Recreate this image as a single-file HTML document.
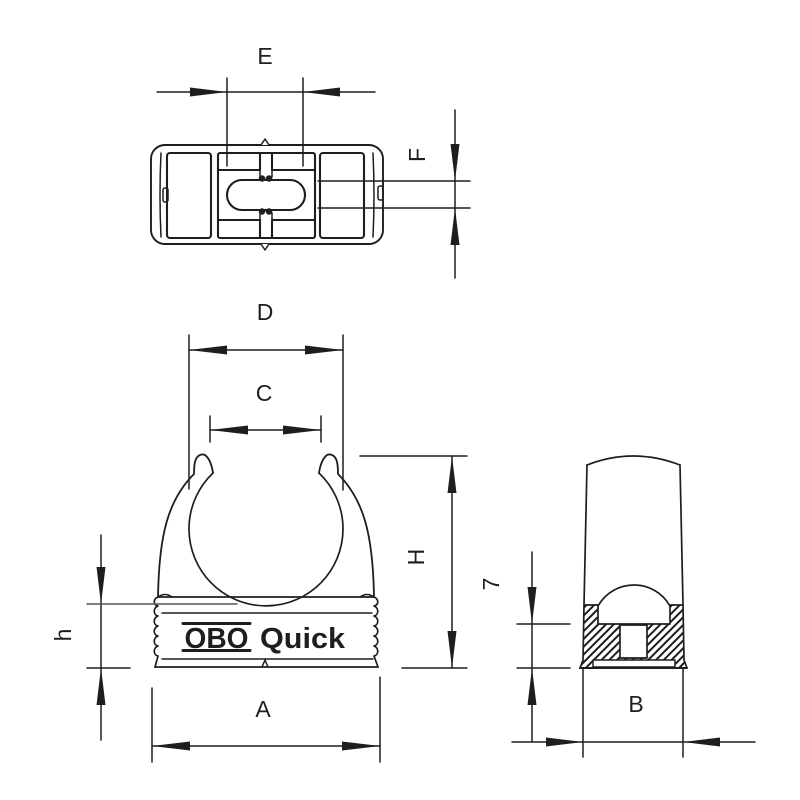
<!DOCTYPE html>
<html>
<head>
<meta charset="utf-8">
<style>
html,body{margin:0;padding:0;background:#fff;}
svg{display:block;}
text{font-family:"Liberation Sans",sans-serif;fill:#1e1e1e;}
</style>
</head>
<body>
<svg width="800" height="800" viewBox="0 0 800 800" xmlns="http://www.w3.org/2000/svg">
<defs>
<pattern id="hatch" patternUnits="userSpaceOnUse" width="5.5" height="5.5" patternTransform="rotate(45)">
<rect width="5.5" height="5.5" fill="#fff"/>
<line x1="1" y1="0" x2="1" y2="5.5" stroke="#1e1e1e" stroke-width="2"/>
</pattern>
</defs>
<g fill="none" stroke="#1e1e1e" stroke-width="1.5" stroke-linejoin="round" stroke-linecap="round">

<!-- ============ TOP VIEW ============ -->
<rect x="151" y="145" width="232" height="99" rx="14" stroke-width="1.9"/>
<path d="M161,153 Q159,195 161,237"/>
<path d="M373,153 Q375,195 373,237"/>
<!-- notches -->
<path d="M261,145 L265,139 L269,145" fill="#fff"/>
<path d="M261,244 L265,250 L269,244" fill="#fff"/>
<!-- side bumps -->
<rect x="163" y="188" width="5" height="14" rx="2"/>
<rect x="378" y="186" width="5" height="14" rx="2"/>
<!-- pockets -->
<rect x="167" y="153" width="44" height="85" rx="3" stroke-width="2.1"/>
<rect x="320" y="153" width="44" height="85" rx="3" stroke-width="2.1"/>
<!-- center block -->
<rect x="218" y="153" width="97" height="85" rx="2" stroke-width="2.1"/>
<path d="M218,170 L260,170 L260,153 M272,153 L272,170 L315,170" stroke-width="2.1"/>
<path d="M218,220 L260,220 L260,238 M272,238 L272,220 L315,220" stroke-width="2.1"/>
<path d="M260,170 L260,177 M272,170 L272,177 M260,213 L260,220 M272,213 L272,220"/>
<rect x="227" y="180" width="78" height="30" rx="15" stroke-width="2.1"/>
<circle cx="262" cy="178.5" r="2.5" fill="#1e1e1e"/>
<circle cx="269" cy="178.5" r="2.5" fill="#1e1e1e"/>
<circle cx="262" cy="211.5" r="2.5" fill="#1e1e1e"/>
<circle cx="269" cy="211.5" r="2.5" fill="#1e1e1e"/>

<!-- E dimension -->
<line x1="157" y1="92" x2="375" y2="92"/>
<line x1="227" y1="78" x2="227" y2="166"/>
<line x1="303" y1="78" x2="303" y2="166"/>
<!-- F dimension -->
<line x1="455" y1="110" x2="455" y2="278"/>
<line x1="318" y1="181" x2="470" y2="181"/>
<line x1="318" y1="208" x2="470" y2="208"/>

<!-- ============ FRONT VIEW ============ -->
<!-- inner circle -->
<path d="M213,473 A77,77 0 1 0 319,473" stroke-width="1.7"/>
<!-- left arm -->
<path d="M213,473 C212,466 210,459 205,455 C200,453 196,457 195,462 C194,466 194,470 194,474 C168,500 159,535 158,597" stroke-width="1.8"/>
<!-- right arm -->
<path d="M319,473 C320,466 322,459 327,455 C332,453 336,457 337,462 C338,466 338,470 338,474 C364,500 373,535 374,597" stroke-width="1.8"/>
<!-- base band -->
<line x1="158" y1="597" x2="374" y2="597" stroke-width="1.7"/>
<path d="M158,597 Q165,592 172,597 M374,597 Q367,592 360,597"/>
<line x1="162" y1="613" x2="372" y2="613"/>
<line x1="162" y1="659" x2="373" y2="659"/>
<line x1="155" y1="667" x2="378" y2="667" stroke-width="1.8"/>
<!-- left scalloped edge -->
<path d="M158,597 C153,599 153,605 158,606 C153,608 153,615 158,616 C153,618 153,625 158,626 C153,628 153,635 158,636 C153,638 153,645 158,646 C153,648 153,655 158,656 L155,667" stroke-width="1.7"/>
<!-- right scalloped edge -->
<path d="M374,597 C379,599 379,605 374,606 C379,608 379,615 374,616 C379,618 379,625 374,626 C379,628 379,635 374,636 C379,638 379,645 374,646 C379,648 379,655 374,656 L378,667" stroke-width="1.7"/>
<path d="M262,667 L265,660 L268,667"/>
<!-- OBO logo bars -->
<line x1="183" y1="623.5" x2="250" y2="623.5" stroke-width="3"/>
<line x1="183" y1="650.5" x2="250" y2="650.5" stroke-width="3"/>

<!-- D dimension -->
<line x1="189" y1="350" x2="343" y2="350"/>
<line x1="189" y1="335" x2="189" y2="489"/>
<line x1="343" y1="335" x2="343" y2="490"/>
<!-- C dimension -->
<line x1="210" y1="430" x2="321" y2="430"/>
<line x1="210" y1="416" x2="210" y2="442"/>
<line x1="321" y1="416" x2="321" y2="442"/>
<!-- H dimension -->
<line x1="452" y1="456" x2="452" y2="668"/>
<line x1="360" y1="456" x2="467" y2="456"/>
<line x1="402" y1="668" x2="467" y2="668"/>
<!-- h dimension -->
<line x1="101" y1="535" x2="101" y2="740"/>
<line x1="87" y1="604" x2="237" y2="604" stroke="#555"/>
<line x1="87" y1="668" x2="130" y2="668"/>
<!-- A dimension -->
<line x1="152" y1="746" x2="380" y2="746"/>
<line x1="152" y1="688" x2="152" y2="762"/>
<line x1="380" y1="677" x2="380" y2="762"/>

<!-- ============ SIDE VIEW ============ -->
<path d="M587,465 Q633,447 680,465" stroke-width="1.7"/>
<line x1="587" y1="465" x2="584" y2="605" stroke-width="1.7"/>
<line x1="680" y1="465" x2="683" y2="605" stroke-width="1.7"/>
<!-- hatched section -->
<path d="M584,605 L683,605 L684,660 L687,668 L580,668 L583,660 Z" fill="url(#hatch)" stroke-width="1.7"/>
<path d="M598,624 L598,606 C606,592 620,585 634,585 C648,585 662,592 670,606 L670,624 Z" fill="#fff" stroke-width="1.7"/>
<rect x="620" y="625" width="27" height="33" fill="#fff" stroke-width="1.7"/>
<rect x="593" y="660" width="82" height="7" fill="#fff" stroke-width="1.5"/>
<line x1="580" y1="668" x2="687" y2="668" stroke-width="1.9"/>

<!-- 7 dimension -->
<line x1="532" y1="552" x2="532" y2="742"/>
<line x1="517" y1="624" x2="570" y2="624"/>
<line x1="517" y1="668" x2="570" y2="668"/>
<!-- B dimension -->
<line x1="512" y1="742" x2="755" y2="742"/>
<line x1="583" y1="668" x2="583" y2="757"/>
<line x1="683" y1="668" x2="683" y2="757"/>
</g>

<!-- arrowheads -->
<g fill="#1e1e1e" stroke="none">
<!-- E -->
<polygon points="190,87.5 227,92 190,96.5"/>
<polygon points="340,87.5 303,92 340,96.5"/>
<!-- F -->
<polygon points="450.5,144 455,181 459.5,144"/>
<polygon points="450.5,245 455,208 459.5,245"/>
<!-- D -->
<polygon points="227,345.5 189,350 227,354.5"/>
<polygon points="305,345.5 343,350 305,354.5"/>
<!-- C -->
<polygon points="248,425.5 210,430 248,434.5"/>
<polygon points="283,425.5 321,430 283,434.5"/>
<!-- H -->
<polygon points="447.5,493 452,456 456.5,493"/>
<polygon points="447.5,631 452,668 456.5,631"/>
<!-- h -->
<polygon points="96.5,567 101,604 105.5,567"/>
<polygon points="96.5,705 101,668 105.5,705"/>
<!-- A -->
<polygon points="190,741.5 152,746 190,750.5"/>
<polygon points="342,741.5 380,746 342,750.5"/>
<!-- 7 -->
<polygon points="527.5,587 532,624 536.5,587"/>
<polygon points="527.5,705 532,668 536.5,705"/>
<!-- B -->
<polygon points="546,737.5 583,742 546,746.5"/>
<polygon points="720,737.5 683,742 720,746.5"/>
</g>

<!-- logo text -->
<text x="216.5" y="648" font-size="29" font-weight="bold" text-anchor="middle" textLength="64" lengthAdjust="spacingAndGlyphs">OBO</text>
<text x="260" y="648" font-size="29" font-weight="bold" textLength="85" lengthAdjust="spacingAndGlyphs">Quick</text>

<!-- labels -->
<g font-size="23" text-anchor="middle">
<text x="265" y="64">E</text>
<text x="265" y="320">D</text>
<text x="264" y="401">C</text>
<text x="263" y="717">A</text>
<text x="636" y="712">B</text>
<text transform="translate(424,557) rotate(-90)" x="0" y="0">H</text>
<text transform="translate(71,635) rotate(-90)" x="0" y="0">h</text>
<text transform="translate(425,155) rotate(-90)" x="0" y="0">F</text>
<text transform="translate(499,584) rotate(-90)" x="0" y="0">7</text>
</g>
</svg>
</body>
</html>
